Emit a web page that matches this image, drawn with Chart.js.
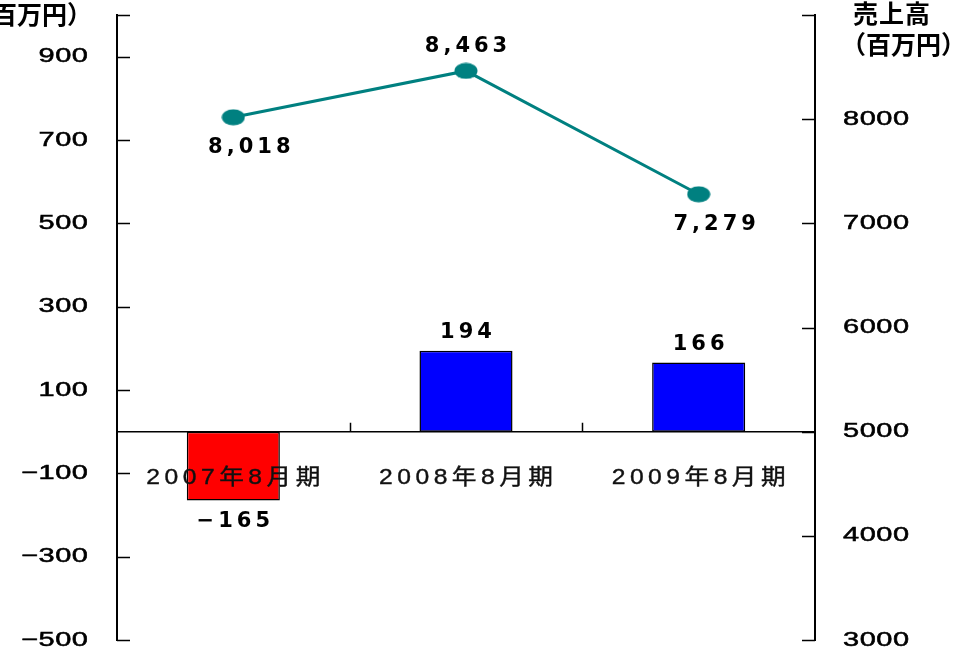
<!DOCTYPE html>
<html>
<head>
<meta charset="utf-8">
<script src="https://cdn.jsdelivr.net/npm/chart.js@4/dist/chart.umd.min.js"></script>
<style>
  body { margin: 0; background: #fff; }
  canvas { display: block; }
</style>
</head>
<body>
<canvas id="chart" width="974" height="653"></canvas>
<script>
const categories = ['2007年8月期', '2008年8月期', '2009年8月期']
const profitValues = [-165, 194, 166]
const salesValues = [8018, 8463, 7279]
const leftTicks = [-500, -300, -100, 100, 300, 500, 700, 900]
const rightTicks = [3000, 4000, 5000, 6000, 7000, 8000]
const salesLabelSide = ['below', 'above', 'below']

const TEAL = '#008080'
const tickFont = '20px "Liberation Sans", "Noto Sans CJK JP"'
const catFont = '22px "Liberation Sans", "Noto Sans CJK JP"'
const dataFont = 'bold 21px "DejaVu Sans", "Noto Sans CJK JP"'
const titleFont = 'bold 25px "Noto Sans CJK JP"'

function fmt(v, comma) {
    const s = comma ? Math.abs(v).toLocaleString('en-US') : String(Math.abs(v))
    return (v < 0 ? '\u2212' : '') + s
}

// text with letter spacing and a little horizontal stretch
function drawText(ctx, str, x, y, o) {
    ctx.save()
    ctx.font = o.font
    ctx.fillStyle = o.color || '#000'
    ctx.textBaseline = 'middle'
    ctx.textAlign = 'left'
    ctx.letterSpacing = '0px'
    const sx = o.sx || 1, sp = o.sp || 0
    const n = Array.from(str).length
    const w = ctx.measureText(str).width * sx + sp * (n - 1)
    let left = x
    if (o.align === 'center') left = x - w / 2
    if (o.align === 'right') left = x - w
    ctx.letterSpacing = (sp / sx) + 'px'
    ctx.translate(left, y)
    ctx.scale(sx, 1)
    ctx.fillText(str, 0, 0)
    if (o.stroke) {
        ctx.strokeStyle = ctx.fillStyle
        ctx.lineWidth = o.stroke
        ctx.strokeText(str, 0, 0)
    }
    ctx.restore()
}

function ellipsePoint() {
    const c = document.createElement('canvas')
    c.width = 24
    c.height = 17
    const g = c.getContext('2d')
    g.fillStyle = TEAL
    g.beginPath()
    g.ellipse(12, 8.5, 11.5, 8, 0, 0, Math.PI * 2)
    g.fill()
    return c
}

const annotations = {
    id: 'annotations',
    afterDatasetsDraw(chart) {
        const ctx = chart.ctx
        const area = chart.chartArea
        const xs = chart.scales.x, ys = chart.scales.y, ys1 = chart.scales.y1
        const zeroY = ys.getPixelForValue(0)

        // inward tick marks
        ctx.save()
        ctx.strokeStyle = '#000'
        ctx.lineWidth = 1.5
        ctx.beginPath()
        ys.ticks.forEach(t => {
            const py = Math.round(ys.getPixelForValue(t.value)) + 0.5
            ctx.moveTo(area.left, py)
            ctx.lineTo(area.left + 13, py)
        })
        ys1.ticks.forEach(t => {
            const py = Math.round(ys1.getPixelForValue(t.value)) + 0.5
            ctx.moveTo(area.right, py)
            ctx.lineTo(area.right - 13, py)
        })
        for (let i = 0; i < categories.length - 1; i++) {
            const bx = Math.round((xs.getPixelForValue(i) + xs.getPixelForValue(i + 1)) / 2) + 0.5
            ctx.moveTo(bx, zeroY)
            ctx.lineTo(bx, zeroY - 9)
        }
        ctx.stroke()
        ctx.restore()

        // tick labels
        leftTicks.forEach(v => {
            drawText(ctx, fmt(v), 88, ys.getPixelForValue(v), {font: tickFont, sx: 1.45, sp: 0.5, stroke: 0.5, align: 'right'})
        })
        rightTicks.forEach(v => {
            drawText(ctx, String(v), 843, ys1.getPixelForValue(v), {font: tickFont, sx: 1.45, sp: 0.5, stroke: 0.5, align: 'left'})
        })

        // category labels under the zero line
        categories.forEach((c, i) => {
            drawText(ctx, c, xs.getPixelForValue(i), zeroY + 46, {font: catFont, sx: 1.12, sp: 4.5, stroke: 0.4, align: 'center', color: '#111'})
        })

        // bar value labels
        chart.getDatasetMeta(1).data.forEach((el, i) => {
            const v = profitValues[i]
            const py = v < 0 ? el.y + 21 : el.y - 18
            drawText(ctx, fmt(v), el.x, py, {font: dataFont, sp: 4, align: 'center'})
        })

        // line value labels
        chart.getDatasetMeta(0).data.forEach((el, i) => {
            const above = salesLabelSide[i] === 'above'
            const px = above ? el.x : el.x + 16
            const py = above ? el.y - 24 : el.y + 30
            drawText(ctx, fmt(salesValues[i], true), px, py, {font: dataFont, sp: 4, align: 'center'})
        })

        // axis titles
        drawText(ctx, '（百万円）', 92, 14, {font: titleFont, align: 'right'})
        drawText(ctx, '売上高', 853, 13, {font: titleFont, sp: 1, align: 'left'})
        drawText(ctx, '（百万円）', 841, 44, {font: titleFont, align: 'left'})
    }
}

const noGrid = {display: false, drawTicks: false}
const axisBorder = {display: true, color: '#000', width: 2}

new Chart(document.getElementById('chart'), {
    data: {
        labels: categories,
        datasets: [
            {
                type: 'line',
                label: '売上高',
                data: salesValues,
                yAxisID: 'y1',
                borderColor: TEAL,
                backgroundColor: TEAL,
                borderWidth: 3,
                pointStyle: ellipsePoint(),
                tension: 0
            },
            {
                type: 'bar',
                label: '利益',
                data: profitValues,
                yAxisID: 'y',
                backgroundColor: profitValues.map(v => v < 0 ? '#ff0000' : '#0000ff'),
                borderColor: '#000',
                borderWidth: 1.5,
                borderSkipped: false,
                barPercentage: 0.4,
                categoryPercentage: 1
            }
        ]
    },
    options: {
        responsive: false,
        animation: false,
        layout: {
            padding: {left: 117, right: 159, top: 15, bottom: 13}
        },
        plugins: {
            legend: {display: false},
            tooltip: {enabled: false}
        },
        scales: {
            x: {
                position: {y: 0},
                offset: true,
                grid: noGrid,
                border: {display: true, color: '#000', width: 1.5},
                ticks: {display: false}
            },
            y: {
                position: 'left',
                min: -500,
                max: 1000,
                grid: noGrid,
                border: axisBorder,
                ticks: {display: false},
                afterBuildTicks: s => { s.ticks = leftTicks.concat([1000]).map(v => ({value: v})) }
            },
            y1: {
                position: 'right',
                min: 3000,
                max: 9000,
                grid: noGrid,
                border: axisBorder,
                ticks: {display: false},
                afterBuildTicks: s => { s.ticks = rightTicks.concat([9000]).map(v => ({value: v})) }
            }
        }
    },
    plugins: [annotations]
})
</script>
</body>
</html>
